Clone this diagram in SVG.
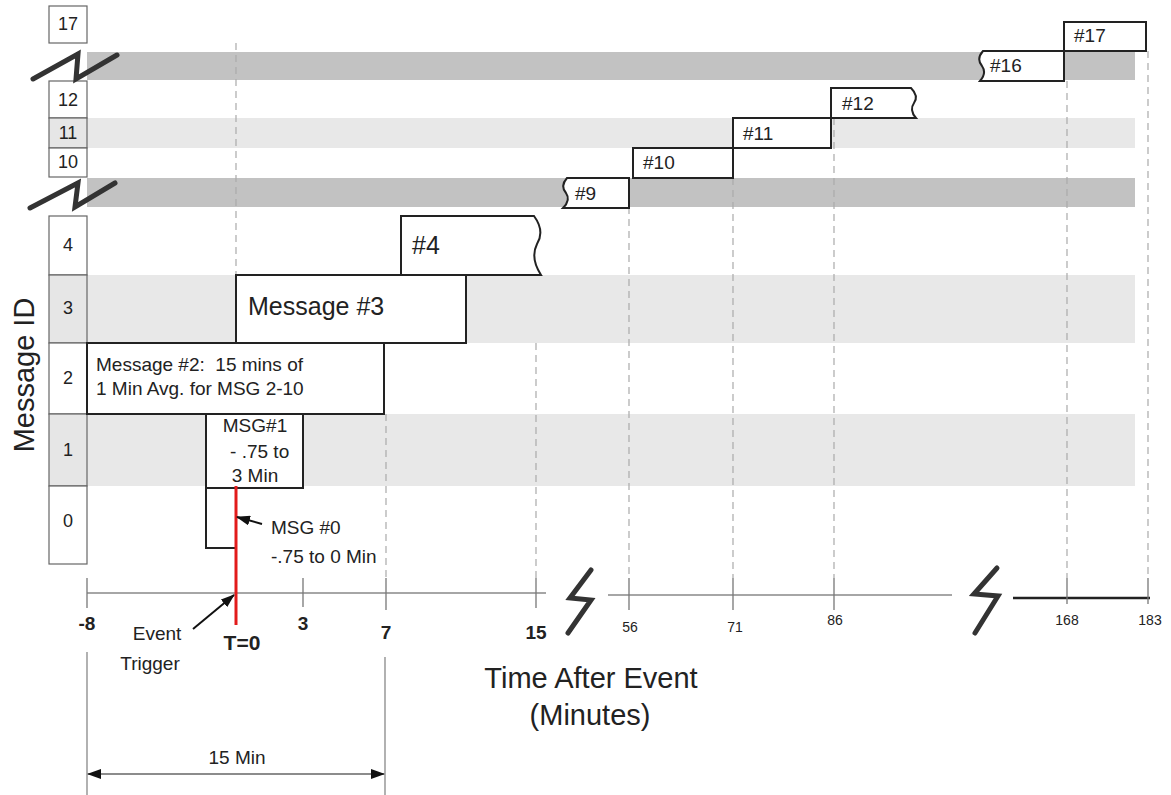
<svg xmlns="http://www.w3.org/2000/svg" width="1171" height="795" viewBox="0 0 1171 795">
<style>
text{font-family:"Liberation Sans",Arial,sans-serif;fill:#222}
.lbl{fill:#fff;stroke:#666;stroke-width:1.2}
.lblg{fill:#e6e6e6;stroke:#666;stroke-width:1.2}
.rl{font-size:18px;text-anchor:middle}
.box{fill:#fff;stroke:#222;stroke-width:2}
.dash{stroke:#aaa;stroke-width:1.2;stroke-dasharray:7,5;fill:none}
.tick{stroke:#777;stroke-width:1.3}
.axis{stroke:#888;stroke-width:1.5;fill:none}
.brk{stroke:#333;stroke-width:5;fill:none;stroke-linecap:round;stroke-linejoin:miter}
.bl{font-size:19px;font-weight:bold;text-anchor:middle}
.sl{font-size:14px;text-anchor:middle}
.mt{font-size:19px}
.hd{font-size:19px}
</style>
<defs>
<marker id="ah" viewBox="0 0 14 10" refX="13" refY="5" markerWidth="14" markerHeight="10" markerUnits="userSpaceOnUse" orient="auto-start-reverse">
<path d="M0,0 L14,5 L0,10 z" fill="#111"/>
</marker>
</defs>

<g id="bands">
<rect x="87" y="52" width="1048" height="28" fill="#c2c2c2"/>
<rect x="87" y="118" width="1048" height="30" fill="#e8e8e8"/>
<rect x="87" y="178" width="1048" height="29" fill="#c2c2c2"/>
<rect x="87" y="275" width="1048" height="68" fill="#e8e8e8"/>
<rect x="87" y="414" width="1048" height="72" fill="#e8e8e8"/>
</g>

<g id="row-labels">
<rect class="lbl" x="49" y="6" width="38" height="37"/><text class="rl" x="68" y="30">17</text>
<rect class="lbl" x="49" y="81" width="38" height="37"/><text class="rl" x="68" y="106">12</text>
<rect class="lblg" x="49" y="118" width="38" height="30"/><text class="rl" x="68" y="139">11</text>
<rect class="lbl" x="49" y="148" width="38" height="29"/><text class="rl" x="68" y="168">10</text>
<rect class="lbl" x="49" y="216" width="38" height="59"/><text class="rl" x="68" y="251">4</text>
<rect class="lblg" x="49" y="275" width="38" height="68"/><text class="rl" x="68" y="314">3</text>
<rect class="lbl" x="49" y="343" width="38" height="71"/><text class="rl" x="68" y="384">2</text>
<rect class="lblg" x="49" y="414" width="38" height="72"/><text class="rl" x="68" y="456">1</text>
<rect class="lbl" x="49" y="486" width="38" height="78"/><text class="rl" x="68" y="527">0</text>
</g>

<g id="row-breaks">
<polyline class="brk" points="33,79 78,54 76,79 117,55"/>
<polyline class="brk" points="30,208 78,183 75,207 115,183"/>
</g>

<g id="gridlines">
<line class="dash" x1="236" y1="43" x2="236" y2="578"/>
<line class="dash" x1="386" y1="414" x2="386" y2="578"/>
<line class="dash" x1="536" y1="343" x2="536" y2="578"/>
<line class="dash" x1="629" y1="207" x2="629" y2="578"/>
<line class="dash" x1="733" y1="178" x2="733" y2="578"/>
<line class="dash" x1="834" y1="118" x2="834" y2="578"/>
<line class="dash" x1="1067" y1="81" x2="1067" y2="578"/>
<line class="dash" x1="1148" y1="51" x2="1148" y2="578"/>
</g>

<g id="msg17"><rect class="box" x="1064" y="22" width="82" height="29"/><text class="hd" x="1074" y="42">#17</text></g>
<g id="msg16"><path class="box" d="M1064,51 H983 Q976,59 982,66 Q987,73 980,81 H1064 Z"/><text class="hd" x="990" y="72">#16</text></g>
<g id="msg12"><path class="box" d="M831,88 H911 Q919,96 914,103 Q909,110 916,118 H831 Z"/><text class="hd" x="842" y="110">#12</text></g>
<g id="msg11"><rect class="box" x="733" y="118" width="98" height="30"/><text class="hd" x="743" y="140">#11</text></g>
<g id="msg10"><rect class="box" x="633" y="148" width="100" height="30"/><text class="hd" x="643" y="169">#10</text></g>
<g id="msg9"><path class="box" d="M629,178 H567 Q560,186 566,193 Q571,200 563,208 H629 Z"/><text class="hd" x="575" y="200">#9</text></g>
<g id="msg4"><path class="box" d="M401,216 H534 Q545,231 537,244 Q530,258 541,275 H401 Z"/><text x="412" y="254" style="font-size:25px">#4</text></g>
<g id="msg3"><rect class="box" x="236" y="275" width="230" height="68"/><text x="248" y="315" style="font-size:25px">Message #3</text></g>
<g id="msg2"><rect class="box" x="87" y="343" width="297" height="71"/>
<text class="mt" x="96" y="371" xml:space="preserve">Message #2:  15 mins of</text>
<text class="mt" x="96" y="395">1 Min Avg. for MSG 2-10</text></g>
<g id="msg1"><rect class="box" x="206" y="414" width="97" height="74"/>
<text class="mt" x="255" y="432" text-anchor="middle">MSG#1</text>
<text class="mt" x="257" y="458" text-anchor="middle" xml:space="preserve"> - .75 to</text>
<text class="mt" x="255" y="482" text-anchor="middle">3 Min</text></g>
<g id="msg0"><polyline points="206,488 206,548 236,548" fill="none" stroke="#222" stroke-width="2"/>
<text class="mt" x="271" y="534">MSG #0</text>
<text class="mt" x="271" y="563">-.75 to 0 Min</text></g>

<g id="axis">
<line class="axis" x1="87" y1="593" x2="546" y2="593"/>
<line class="axis" x1="608" y1="595" x2="952" y2="595"/>
<line x1="1013" y1="598" x2="1150" y2="598" stroke="#222" stroke-width="2.5"/>
<line class="tick" x1="87" y1="578" x2="87" y2="608"/>
<line class="tick" x1="303" y1="578" x2="303" y2="607"/>
<line class="tick" x1="386" y1="578" x2="386" y2="610"/>
<line class="tick" x1="536" y1="578" x2="536" y2="608"/>
<line class="tick" x1="629" y1="578" x2="629" y2="610"/>
<line class="tick" x1="733" y1="578" x2="733" y2="610"/>
<line class="tick" x1="834" y1="578" x2="834" y2="610"/>
<line class="tick" x1="1067" y1="578" x2="1067" y2="604"/>
<line class="tick" x1="1148" y1="578" x2="1148" y2="604"/>
<polyline class="brk" points="591,570 570,598 591,600 568,633"/>
<polyline class="brk" points="997,568 974,594 998,596 975,633"/>
<text class="bl" x="87" y="630">-8</text>
<text class="bl" x="303" y="630">3</text>
<text class="bl" x="386" y="639">7</text>
<text class="bl" x="536" y="639">15</text>
<text class="bl" x="242" y="650" style="font-size:21px">T=0</text>
<text class="sl" x="630" y="632">56</text>
<text class="sl" x="735" y="632">71</text>
<text class="sl" x="835" y="625">86</text>
<text class="sl" x="1067" y="625">168</text>
<text class="sl" x="1150" y="625">183</text>
</g>

<g id="event-trigger">
<line x1="236" y1="486" x2="236" y2="625" stroke="#e21b1b" stroke-width="3"/>
<text x="157" y="640" text-anchor="middle" style="font-size:19px">Event</text>
<text x="150" y="670" text-anchor="middle" style="font-size:19px">Trigger</text>
</g>

<g id="connectors">
<line x1="193" y1="629" x2="234" y2="595" stroke="#111" stroke-width="2" marker-end="url(#ah)"/>
<line x1="262" y1="524" x2="237" y2="517" stroke="#111" stroke-width="2" marker-end="url(#ah)"/>
<line x1="87" y1="652" x2="87" y2="795" stroke="#888" stroke-width="1.3"/>
<line x1="385" y1="657" x2="385" y2="795" stroke="#888" stroke-width="1.3"/>
<line x1="88" y1="774" x2="384" y2="774" stroke="#666" stroke-width="1.5" marker-start="url(#ah)" marker-end="url(#ah)"/>
<text x="237" y="764" text-anchor="middle" style="font-size:19px">15 Min</text>
</g>

<g id="titles">
<text x="591" y="688" text-anchor="middle" style="font-size:29px">Time After Event</text>
<text x="590" y="725" text-anchor="middle" style="font-size:29px">(Minutes)</text>
<text transform="translate(34,375) rotate(-90)" text-anchor="middle" style="font-size:29px">Message ID</text>
</g>
</svg>
